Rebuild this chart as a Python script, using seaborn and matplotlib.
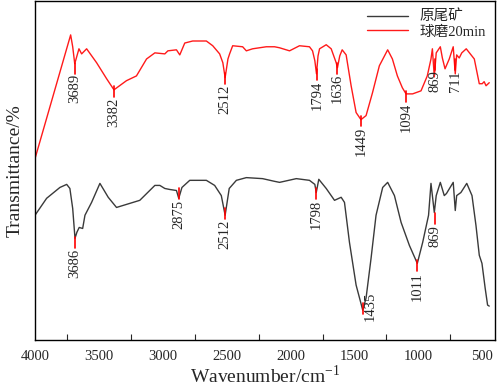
import pandas as pd
import numpy as np
import matplotlib.pyplot as plt
import seaborn as sns

# raw tailings (black) and ball-milled 20 min (red) FTIR spectra
wn_raw = [4000, 3909, 3805, 3752, 3727, 3705, 3687, 3672, 3654, 3627, 3609, 3557, 3492, 3427,
          3362, 3258, 3180, 3062, 3023, 2984, 2945, 2893, 2875, 2850, 2789, 2659, 2594, 2542,
          2512, 2480, 2424, 2346, 2219, 2125, 2086, 1955, 1852, 1810, 1799, 1779, 1721, 1656,
          1604, 1578, 1539, 1487, 1435, 1409, 1370, 1331, 1279, 1240, 1187, 1135, 1070, 1008,
          966, 920, 901, 875, 860, 828, 797, 780, 727, 711, 700, 667, 621, 580, 549, 523, 502,
          477, 458, 445]
t_raw = [36.8, 41.8, 45.0, 45.9, 44.7, 38.8, 30.0, 31.8, 33.2, 32.9, 36.8, 40.6, 46.2, 42.1,
         39.1, 40.3, 41.2, 45.6, 45.6, 44.7, 44.4, 44.1, 41.8, 45.0, 47.1, 47.1, 45.6, 42.6,
         36.8, 44.7, 47.1, 47.9, 47.6, 46.8, 46.5, 47.6, 47.1, 45.9, 43.5, 47.4, 44.7, 41.2,
         42.1, 40.6, 28.8, 16.2, 8.8, 12.4, 24.1, 36.8, 45.0, 46.5, 42.6, 34.7, 27.9, 22.6,
         28.8, 36.8, 46.2, 37.6, 42.6, 46.5, 42.6, 43.2, 46.5, 38.2, 42.6, 43.5, 46.2, 42.6,
         33.8, 25.0, 22.6, 15.3, 10.3, 10.0]

wn_mill = [4000, 3721, 3705, 3689, 3656, 3635, 3596, 3518, 3440, 3382, 3284, 3206, 3127, 3062,
           2984, 2960, 2893, 2867, 2828, 2766, 2659, 2609, 2555, 2530, 2512, 2490, 2477, 2453,
           2375, 2346, 2297, 2190, 2125, 2086, 2008, 1930, 1852, 1828, 1810, 1797, 1785, 1773,
           1721, 1682, 1643, 1633, 1615, 1596, 1565, 1526, 1487, 1449, 1409, 1359, 1305, 1240,
           1203, 1164, 1125, 1096, 1045, 979, 930, 901, 890, 875, 860, 828, 812, 791, 758, 727,
           711, 700, 680, 660, 625, 562, 523, 500, 485, 470, 445]
t_mill = [53.5, 90.0, 86.5, 81.5, 85.9, 84.4, 85.9, 81.8, 77.1, 73.8, 76.5, 77.9, 82.9, 84.7,
          84.4, 85.3, 85.6, 84.1, 87.6, 88.2, 88.2, 86.8, 84.4, 81.8, 77.4, 82.9, 84.4, 86.8,
          86.5, 85.3, 85.9, 86.5, 86.5, 86.2, 85.3, 86.8, 86.5, 85.3, 82.4, 78.5, 83.8, 85.9,
          87.1, 85.9, 81.8, 80.3, 83.8, 85.6, 84.1, 75.0, 67.1, 65.0, 66.2, 72.9, 80.9, 85.6,
          82.9, 77.9, 74.4, 72.6, 72.6, 73.5, 77.9, 82.9, 85.9, 77.6, 84.7, 86.5, 83.2, 80.0,
          82.9, 86.5, 78.5, 84.1, 83.2, 84.7, 85.9, 82.9, 75.6, 75.6, 76.2, 75.0, 75.9]

# labelled peaks: wavenumber and transmittance at top of the marker tick
peaks_mill = [3689, 3382, 2512, 1794, 1636, 1449, 1094, 869, 711]
peak_t_mill = [81.8, 75.0, 78.8, 80.0, 81.8, 66.2, 73.5, 82.9, 82.9]
peaks_raw = [3686, 2875, 2512, 1798, 1435, 1011, 869]
peak_t_raw = [30.3, 44.7, 38.8, 44.7, 10.9, 23.5, 37.4]

names = ['原尾矿', '球磨20min']

df = pd.concat([
    pd.DataFrame({'wn': wn_raw, 't': t_raw, 'sample': names[0]}),
    pd.DataFrame({'wn': wn_mill, 't': t_mill, 'sample': names[1]}),
])

sns.set_style('ticks')
plt.rcParams['font.family'] = ['Liberation Serif', 'Noto Sans CJK SC']
plt.rcParams['mathtext.fontset'] = 'custom'
plt.rcParams['mathtext.rm'] = 'Liberation Serif'

fig = plt.figure(figsize=(4.98, 3.88), dpi=100)
ax = fig.add_axes([35 / 498, 48 / 388, 460 / 498, 339 / 388])

sns.lineplot(data=df, x='wn', y='t', hue='sample', palette=['#3a3a3a', '#ff1a1a'],
             linewidth=1.0, ax=ax, sort=False)

# peak markers + rotated labels
for wn, t in zip(peaks_mill + peaks_raw, peak_t_mill + peak_t_raw):
    ax.plot([wn, wn], [t, t - 3.2], color='red', lw=1.2)
    if wn == 1435:
        ax.text(wn - 60, t - 1, str(wn), rotation=90, ha='center', va='center', fontsize=10.5)
    else:
        ax.text(wn, t - 3.4, str(wn), rotation=90, ha='center', va='top', fontsize=10.5)

ax.set_xlim(4000, 400)
ax.set_ylim(0, 100)
ax.set_xticks([4000, 3500, 3000, 2500, 2000, 1500, 1000, 500])
ax.set_xticks([3750, 3250, 2750, 2250, 1750, 1250, 750], minor=True)
ax.tick_params(axis='x', which='major', length=0, labelsize=10.5, pad=7)
ax.tick_params(axis='x', which='minor', direction='in', length=4, width=0.8)
ax.set_yticks([])
for s in ax.spines.values():
    s.set_linewidth(1.0)
    s.set_color('black')

ax.set_xlabel('Wavenumber/cm$^{-1}$', fontsize=14, labelpad=1)
ax.set_ylabel('Transmittance/%', fontsize=14, labelpad=8)

leg = ax.legend(loc='upper right', frameon=False, fontsize=10.5, handlelength=2.8,
                borderaxespad=0.2, labelspacing=0.1)
leg.set_title(None)

plt.savefig('out.png', dpi=100)
